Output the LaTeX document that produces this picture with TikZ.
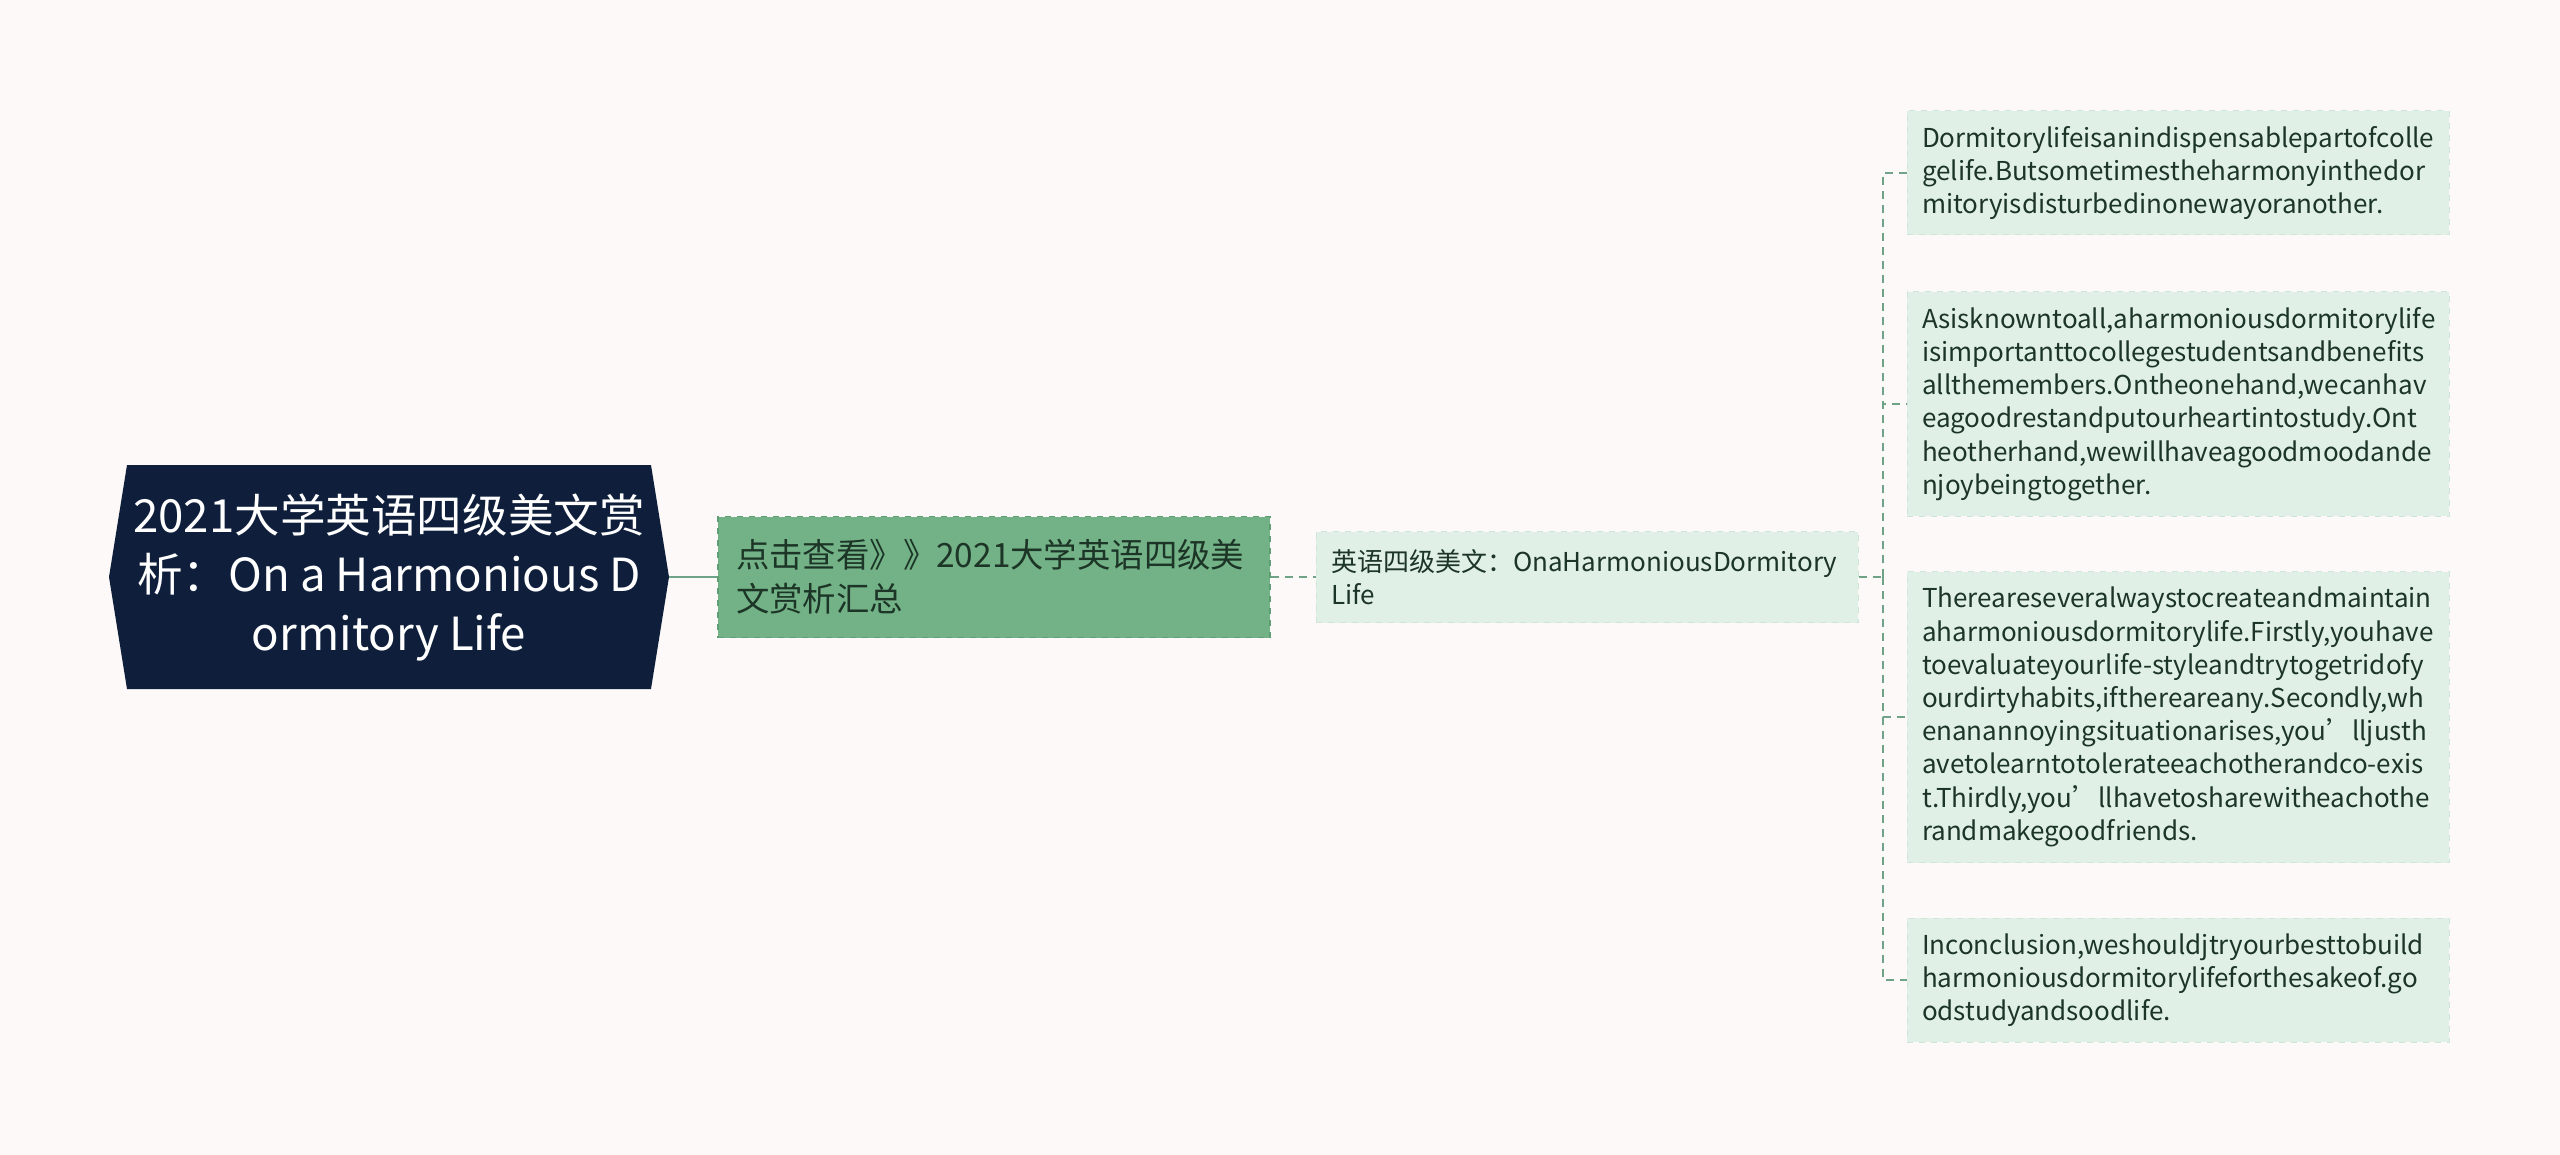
\documentclass[tikz,border=0pt]{standalone}
\usepackage{fontspec}
\setmainfont{Noto Sans CJK SC}
\definecolor{bgc}{HTML}{FCF9F8}
\definecolor{navy}{HTML}{0F1F3B}
\definecolor{midgreen}{HTML}{73B287}
\definecolor{midgreenb}{HTML}{5F9E74}
\definecolor{mint}{HTML}{E0F0E7}
\definecolor{mintb}{HTML}{CFE5D7}
\definecolor{linec}{HTML}{6FA387}
\definecolor{darktext}{HTML}{1C3526}
\begin{document}
\begin{tikzpicture}[x=0.5pt,y=-0.5pt,
  roottext/.style={text=white,align=center,inner sep=0pt,font=\fontsize{22.8}{29.5}\selectfont},
  subbox/.style={fill=midgreen,draw=midgreenb,dashed,line width=0.6pt,text=darktext,align=left,
    text width=258pt,minimum height=60.5pt,inner xsep=9pt,font=\fontsize{16.7}{22}\selectfont},
  leafbox/.style={fill=mint,draw=mintb,dashed,line width=0.5pt,text=darktext,align=left,
    text width=256pt,inner xsep=7.5pt,font=\fontsize{13}{16.6}\selectfont},
  conn/.style={draw=linec,line width=0.75pt,dash pattern=on 4pt off 3pt},
  solidconn/.style={draw=linec,line width=1.2pt}]
\useasboundingbox[fill=bgc] (0,0) rectangle (2560,1155);
% root
\fill[navy] (127,465) -- (651,465) -- (669,577) -- (651,689) -- (127,689) -- (109,577) -- cycle;
\node[roottext,minimum width=280pt,minimum height=112pt] (root) at (389,577)
  {2021大学英语四级美文赏\\析：On a Harmonious D\\ormitory Life};
% level 1
\node[subbox,minimum width=276pt] (sum) at (994,577) {点击查看》》2021大学英语四级美\\文赏析汇总};
% level 2
\node[leafbox,minimum height=45.5pt] (title) at (1587,577) {英语四级美文：OnaHarmoniousDormitory\\Life};
% leaves
\node[leafbox,minimum height=62pt] (pa) at (2178,173)
  {Dormitorylifeisanindispensablepartofcolle\\gelife.Butsometimestheharmonyinthedor\\mitoryisdisturbedinonewayoranother.};
\node[leafbox,minimum height=112pt] (pb) at (2178,404)
  {Asisknowntoall,aharmoniousdormitorylife\\isimportanttocollegestudentsandbenefits\\allthemembers.Ontheonehand,wecanhav\\eagoodrestandputourheartintostudy.Ont\\heotherhand,wewillhaveagoodmoodande\\njoybeingtogether.};
\node[leafbox,minimum height=145.5pt] (pc) at (2178,717)
  {Thereareseveralwaystocreateandmaintain\\aharmoniousdormitorylife.Firstly,youhave\\toevaluateyourlife-styleandtrytogetridofy\\ourdirtyhabits,ifthereareany.Secondly,wh\\enanannoyingsituationarises,you’lljusth\\avetolearntotolerateeachotherandco-exis\\t.Thirdly,you’llhavetosharewitheachothe\\randmakegoodfriends.};
\node[leafbox,minimum height=62pt] (pd) at (2178,980)
  {Inconclusion,weshouldjtryourbesttobuild\\harmoniousdormitorylifeforthesakeof.go\\odstudyandsoodlife.};
% connectors
\draw[solidconn] (root.east) -- (sum.west);
\draw[conn] (sum.east) -- (title.west);
\coordinate (bus) at (1883,577);
\draw[conn] (title.east) -- (bus);
\draw[conn] (bus) |- (pa.west);
\draw[conn] (bus) |- (pb.west);
\draw[conn] (bus) |- (pc.west);
\draw[conn] (bus) |- (pd.west);
\end{tikzpicture}
\end{document}
